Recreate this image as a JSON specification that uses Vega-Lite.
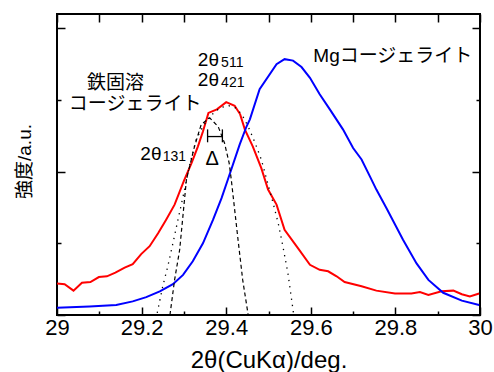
{
  "$schema": "https://vega.github.io/schema/vega-lite/v6.json",
  "width": 423,
  "height": 301,
  "autosize": "none",
  "padding": {"left": 57, "top": 14, "right": 14, "bottom": 57},
  "config": {
    "view": {"stroke": "black", "strokeWidth": 2},
    "font": "Liberation Sans, Noto Sans CJK JP, sans-serif",
    "axis": {"grid": false, "domain": false, "tickColor": "black", "tickWidth": 1.5, "labelColor": "black", "titleColor": "black", "titleFontWeight": "normal"}
  },
  "datasets": {
    "fe": [
      {"x": 29.000, "y": 0.44}, {"x": 29.018, "y": 0.43}, {"x": 29.039, "y": 0.34}, {"x": 29.059, "y": 0.45},
      {"x": 29.079, "y": 0.46}, {"x": 29.099, "y": 0.53}, {"x": 29.118, "y": 0.54}, {"x": 29.138, "y": 0.59},
      {"x": 29.160, "y": 0.66}, {"x": 29.179, "y": 0.71}, {"x": 29.199, "y": 0.85}, {"x": 29.219, "y": 0.96},
      {"x": 29.239, "y": 1.14}, {"x": 29.258, "y": 1.33}, {"x": 29.278, "y": 1.54}, {"x": 29.300, "y": 1.87},
      {"x": 29.318, "y": 2.12}, {"x": 29.333, "y": 2.35}, {"x": 29.345, "y": 2.56}, {"x": 29.358, "y": 2.82},
      {"x": 29.378, "y": 2.87}, {"x": 29.400, "y": 2.97}, {"x": 29.420, "y": 2.92}, {"x": 29.433, "y": 2.80},
      {"x": 29.444, "y": 2.59}, {"x": 29.463, "y": 2.35}, {"x": 29.483, "y": 2.05}, {"x": 29.499, "y": 1.75},
      {"x": 29.519, "y": 1.54}, {"x": 29.538, "y": 1.19}, {"x": 29.570, "y": 0.93}, {"x": 29.598, "y": 0.70},
      {"x": 29.621, "y": 0.63}, {"x": 29.641, "y": 0.61}, {"x": 29.661, "y": 0.54}, {"x": 29.680, "y": 0.46},
      {"x": 29.720, "y": 0.40}, {"x": 29.755, "y": 0.34}, {"x": 29.799, "y": 0.30}, {"x": 29.838, "y": 0.30},
      {"x": 29.858, "y": 0.32}, {"x": 29.878, "y": 0.28}, {"x": 29.909, "y": 0.33}, {"x": 29.937, "y": 0.34},
      {"x": 29.957, "y": 0.29}, {"x": 29.976, "y": 0.26}, {"x": 29.998, "y": 0.30}
    ],
    "mg": [
      {"x": 29.000, "y": 0.10}, {"x": 29.077, "y": 0.12}, {"x": 29.140, "y": 0.14}, {"x": 29.179, "y": 0.19},
      {"x": 29.211, "y": 0.25}, {"x": 29.243, "y": 0.33}, {"x": 29.274, "y": 0.43}, {"x": 29.298, "y": 0.56},
      {"x": 29.321, "y": 0.75}, {"x": 29.345, "y": 1.00}, {"x": 29.369, "y": 1.33}, {"x": 29.389, "y": 1.63},
      {"x": 29.404, "y": 1.89}, {"x": 29.432, "y": 2.38}, {"x": 29.448, "y": 2.63}, {"x": 29.456, "y": 2.73},
      {"x": 29.479, "y": 3.15}, {"x": 29.519, "y": 3.50}, {"x": 29.538, "y": 3.57}, {"x": 29.558, "y": 3.55},
      {"x": 29.578, "y": 3.46}, {"x": 29.598, "y": 3.31}, {"x": 29.621, "y": 3.08}, {"x": 29.645, "y": 2.87},
      {"x": 29.676, "y": 2.59}, {"x": 29.700, "y": 2.33}, {"x": 29.720, "y": 2.17}, {"x": 29.740, "y": 1.93},
      {"x": 29.755, "y": 1.75}, {"x": 29.779, "y": 1.49}, {"x": 29.818, "y": 1.05}, {"x": 29.850, "y": 0.72},
      {"x": 29.878, "y": 0.49}, {"x": 29.913, "y": 0.31}, {"x": 29.957, "y": 0.20}, {"x": 29.998, "y": 0.14}
    ],
    "p131": [
      {"x": 29.267, "y": 0.00}, {"x": 29.278, "y": 0.49}, {"x": 29.290, "y": 0.91}, {"x": 29.306, "y": 1.89},
      {"x": 29.325, "y": 2.35}, {"x": 29.341, "y": 2.66}, {"x": 29.361, "y": 2.75}, {"x": 29.381, "y": 2.63},
      {"x": 29.396, "y": 2.40}, {"x": 29.407, "y": 2.12}, {"x": 29.412, "y": 1.89}, {"x": 29.428, "y": 1.05},
      {"x": 29.439, "y": 0.49}, {"x": 29.452, "y": 0.00}
    ],
    "p511": [
      {"x": 29.237, "y": 0.03}, {"x": 29.250, "y": 0.40}, {"x": 29.262, "y": 0.68}, {"x": 29.274, "y": 1.00},
      {"x": 29.286, "y": 1.33}, {"x": 29.299, "y": 1.68}, {"x": 29.314, "y": 2.10}, {"x": 29.329, "y": 2.45},
      {"x": 29.345, "y": 2.63}, {"x": 29.361, "y": 2.77}, {"x": 29.385, "y": 2.89}, {"x": 29.406, "y": 2.92},
      {"x": 29.422, "y": 2.89}, {"x": 29.437, "y": 2.80}, {"x": 29.452, "y": 2.63}, {"x": 29.467, "y": 2.42},
      {"x": 29.483, "y": 2.17}, {"x": 29.499, "y": 1.82}, {"x": 29.511, "y": 1.56}, {"x": 29.523, "y": 1.28},
      {"x": 29.534, "y": 0.96}, {"x": 29.546, "y": 0.58}, {"x": 29.559, "y": 0.03}
    ],
    "labels": [
      {"x": 29.606, "y": 3.524, "t": "Mgコージェライト"},
      {"x": 29.071, "y": 3.160, "t": "鉄固溶"},
      {"x": 29.028, "y": 2.867, "t": "コージェライト"},
      {"x": 29.333, "y": 3.470, "t": "2θ"},
      {"x": 29.333, "y": 3.193, "t": "2θ"},
      {"x": 29.197, "y": 2.168, "t": "2θ"}
    ],
    "subs": [
      {"x": 29.388, "y": 3.454, "t": "511"},
      {"x": 29.388, "y": 3.175, "t": "421"},
      {"x": 29.250, "y": 2.147, "t": "131"}
    ],
    "delta": [
      {"x": 29.367, "y": 2.098, "t": "Δ"}
    ],
    "bracket": [
      {"x": 29.356, "x2": 29.391, "y": 2.49, "y2": 2.49},
      {"x": 29.356, "x2": 29.356, "y": 2.41, "y2": 2.59},
      {"x": 29.391, "x2": 29.391, "y": 2.41, "y2": 2.59}
    ]
  },
  "layer": [
    {
      "data": {"name": "fe"},
      "mark": {"type": "line", "color": "#ff0000", "strokeWidth": 2, "clip": true},
      "encoding": {
        "x": {"field": "x", "type": "quantitative",
          "scale": {"domain": [29, 30], "nice": false, "zero": false},
          "axis": {"orient": "bottom", "values": [29, 29.1, 29.2, 29.3, 29.4, 29.5, 29.6, 29.7, 29.8, 29.9, 30],
            "labelExpr": "abs(datum.value*5-round(datum.value*5))<0.01 ? format(datum.value,'~g') : ''",
            "tickSize": {"condition": {"test": "abs(datum.value*5-round(datum.value*5))<0.01", "value": -8}, "value": -4},
            "labelFontSize": 22, "labelPadding": 10, "labelFlush": false, "labelOverlap": false,
            "title": "2θ(CuKα)/deg.", "titleFontSize": 24, "titlePadding": 6}},
        "y": {"field": "y", "type": "quantitative",
          "scale": {"domain": [0, 4.2], "nice": false, "zero": false},
          "axis": {"orient": "left", "values": [0, 1, 2, 3, 4], "labels": false,
            "tickSize": {"condition": {"test": "datum.value % 2 == 0", "value": -8}, "value": -4},
            "title": "強度/a.u.", "titleFontSize": 19, "titlePadding": 22, "titleY": 147}}
      }
    },
    {
      "data": {"name": "mg"},
      "mark": {"type": "line", "color": "#0000ff", "strokeWidth": 2, "clip": true},
      "encoding": {
        "x": {"field": "x", "type": "quantitative",
          "axis": {"orient": "top", "values": [29, 29.1, 29.2, 29.3, 29.4, 29.5, 29.6, 29.7, 29.8, 29.9, 30],
            "labels": false, "tickSize": -8, "title": null}},
        "y": {"field": "y", "type": "quantitative",
          "axis": {"orient": "right", "values": [0, 1, 2, 3, 4], "labels": false,
            "tickSize": {"condition": {"test": "datum.value % 2 == 0", "value": -8}, "value": -4},
            "title": null}}
      }
    },
    {
      "data": {"name": "p131"},
      "mark": {"type": "line", "color": "black", "strokeWidth": 1.2, "strokeDash": [4, 3], "clip": true},
      "encoding": {
        "x": {"field": "x", "type": "quantitative", "axis": null},
        "y": {"field": "y", "type": "quantitative", "axis": null}
      }
    },
    {
      "data": {"name": "p511"},
      "mark": {"type": "line", "color": "black", "strokeWidth": 1.3, "strokeDash": [1.3, 5], "clip": true},
      "encoding": {
        "x": {"field": "x", "type": "quantitative", "axis": null},
        "y": {"field": "y", "type": "quantitative", "axis": null}
      }
    },
    {
      "data": {"name": "bracket"},
      "mark": {"type": "rule", "color": "black", "strokeWidth": 1.3},
      "encoding": {
        "x": {"field": "x", "type": "quantitative", "axis": null},
        "x2": {"field": "x2"},
        "y": {"field": "y", "type": "quantitative", "axis": null},
        "y2": {"field": "y2"}
      }
    },
    {
      "data": {"name": "labels"},
      "mark": {"type": "text", "align": "left", "baseline": "alphabetic", "fontSize": 19, "color": "black"},
      "encoding": {
        "x": {"field": "x", "type": "quantitative", "axis": null},
        "y": {"field": "y", "type": "quantitative", "axis": null},
        "text": {"field": "t"}
      }
    },
    {
      "data": {"name": "subs"},
      "mark": {"type": "text", "align": "left", "baseline": "alphabetic", "fontSize": 14, "color": "black"},
      "encoding": {
        "x": {"field": "x", "type": "quantitative", "axis": null},
        "y": {"field": "y", "type": "quantitative", "axis": null},
        "text": {"field": "t"}
      }
    },
    {
      "data": {"name": "delta"},
      "mark": {"type": "text", "align": "center", "baseline": "alphabetic", "fontSize": 20, "color": "black"},
      "encoding": {
        "x": {"field": "x", "type": "quantitative", "axis": null},
        "y": {"field": "y", "type": "quantitative", "axis": null},
        "text": {"field": "t"}
      }
    }
  ],
  "resolve": {"axis": {"x": "independent", "y": "independent"}}
}
